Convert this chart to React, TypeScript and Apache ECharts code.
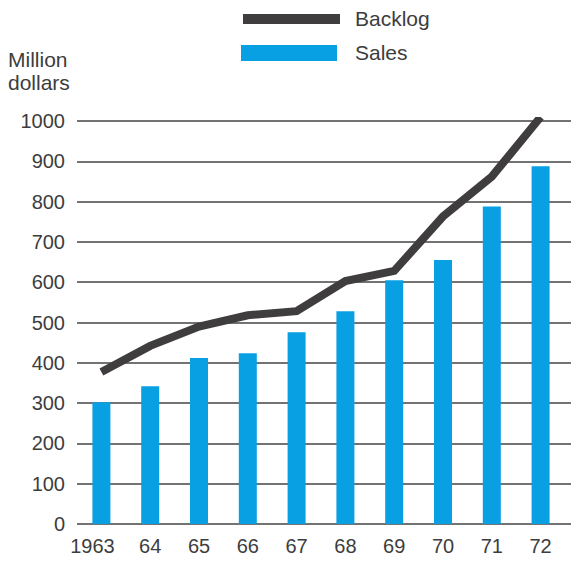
import React, { useEffect, useRef } from "react";
import * as echarts from "echarts";

const categories = ["1963", "64", "65", "66", "67", "68", "69", "70", "71", "72"];
const sales = [302, 342, 412, 424, 476, 528, 605, 655, 788, 888];
const backlog = [377, 442, 490, 518, 528, 603, 628, 763, 862, 1010];
const yTicks = { min: 0, max: 1000, interval: 100 };

const BLUE = "#08a0e2";
const DARK = "#403d3e";
const TEXT = "#3d3d3d";
const FONT = "Liberation Sans, Arial, Helvetica, sans-serif";

export default function App() {
  const ref = useRef<HTMLDivElement>(null);
  useEffect(() => {
    if (!ref.current) return;
    const chart = echarts.init(ref.current, null, { renderer: "svg" });
    chart.setOption({
      animation: false,
      backgroundColor: "#ffffff",
      textStyle: { fontFamily: FONT },
      grid: [
        { left: 77, right: 6, top: 121, bottom: 39 },
        { left: 77, right: 0, top: 121, bottom: 39 },
      ],
      xAxis: [
        {
          type: "category",
          gridIndex: 0,
          data: categories,
          boundaryGap: true,
          axisLine: { show: false },
          axisTick: { show: false },
          axisLabel: {
            interval: 0,
            fontSize: 20,
            color: TEXT,
            margin: 12,
            fontFamily: FONT,
            formatter: (v: string, i: number) => (i === 0 ? "{first|" + v + "}" : v),
            rich: {
              first: { fontSize: 20, color: TEXT, fontFamily: FONT, padding: [0, 18, 0, 0] },
            },
          },
        },
        { type: "value", gridIndex: 1, min: 0, max: 1, show: false },
      ],
      yAxis: [
        {
          type: "value",
          gridIndex: 0,
          ...yTicks,
          axisLine: { show: false },
          axisTick: { show: false },
          splitLine: { show: false },
          axisLabel: {
            fontSize: 20,
            color: TEXT,
            margin: 12,
            fontFamily: FONT,
            formatter: (v: number) => String(v),
          },
        },
        {
          type: "value",
          gridIndex: 1,
          ...yTicks,
          axisLine: { show: false },
          axisTick: { show: false },
          axisLabel: { show: false },
          splitLine: { show: true, lineStyle: { color: "#454545", width: 1.6 } },
        },
      ],
      series: [
        {
          name: "Sales",
          type: "bar",
          xAxisIndex: 0,
          yAxisIndex: 0,
          data: sales,
          barWidth: 18,
          itemStyle: { color: BLUE },
          z: 3,
        },
        {
          name: "Backlog",
          type: "line",
          xAxisIndex: 0,
          yAxisIndex: 0,
          data: backlog,
          symbol: "none",
          lineStyle: { color: DARK, width: 8, cap: "butt", join: "miter" },
          z: 4,
        },
      ],
      graphic: [
        { type: "rect", shape: { x: 243, y: 14, width: 97, height: 10 }, style: { fill: DARK } },
        {
          type: "text",
          x: 355,
          y: 18,
          style: { text: "Backlog", fontSize: 21, fill: TEXT, fontFamily: FONT, verticalAlign: "middle" },
        },
        { type: "rect", shape: { x: 241, y: 45, width: 96, height: 16 }, style: { fill: BLUE } },
        {
          type: "text",
          x: 355,
          y: 52,
          style: { text: "Sales", fontSize: 21, fill: TEXT, fontFamily: FONT, verticalAlign: "middle" },
        },
        {
          type: "text",
          x: 8,
          y: 48,
          style: {
            text: "Million\ndollars",
            fontSize: 21,
            lineHeight: 23,
            fill: TEXT,
            fontFamily: FONT,
            verticalAlign: "top",
          },
        },
      ],
    });
    return () => chart.dispose();
  }, []);
  return (
    <div
      ref={ref}
      style={{ position: "fixed", left: 0, top: 0, width: 571, height: 563, background: "#fff" }}
    />
  );
}
